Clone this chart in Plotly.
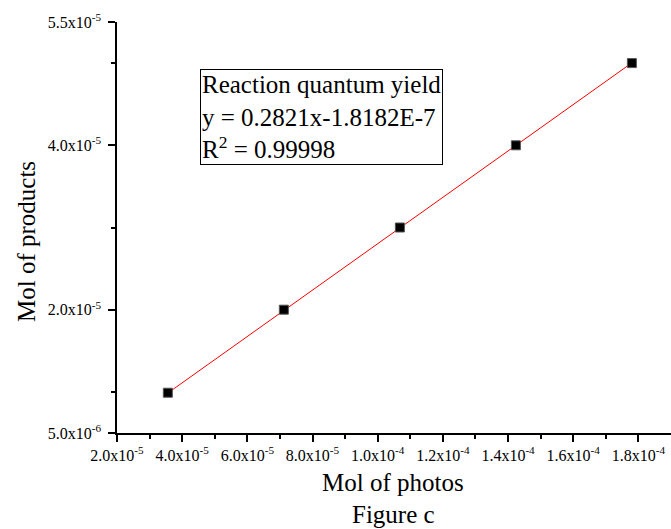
import plotly.graph_objects as go

# Data
mol_photons = [3.56e-5, 7.12e-5, 1.068e-4, 1.424e-4, 1.78e-4]
mol_products = [9.9e-6, 2.0e-5, 3.0e-5, 4.0e-5, 5.0e-5]
slope = 0.2821
intercept = -1.8182e-7
fit_y = [slope * x + intercept for x in mol_photons]

x_tickvals = [2.0e-5, 4.0e-5, 6.0e-5, 8.0e-5, 1.0e-4, 1.2e-4, 1.4e-4, 1.6e-4, 1.8e-4]
x_ticktext = ["2.0x10<sup>-5</sup>", "4.0x10<sup>-5</sup>", "6.0x10<sup>-5</sup>", "8.0x10<sup>-5</sup>",
              "1.0x10<sup>-4</sup>", "1.2x10<sup>-4</sup>", "1.4x10<sup>-4</sup>", "1.6x10<sup>-4</sup>",
              "1.8x10<sup>-4</sup>"]
x_minor = [3.0e-5, 5.0e-5, 7.0e-5, 9.0e-5, 1.1e-4, 1.3e-4, 1.5e-4, 1.7e-4]
y_tickvals = [5.0e-6, 2.0e-5, 4.0e-5, 5.5e-5]
y_ticktext = ["5.0x10<sup>-6</sup>", "2.0x10<sup>-5</sup>", "4.0x10<sup>-5</sup>", "5.5x10<sup>-5</sup>"]
y_minor = [1.0e-5, 3.0e-5, 5.0e-5]

font = "Liberation Serif, Times New Roman, serif"
L, R, T, B = 117, 671, 22, 433
W, H = R - L, B - T

fig = go.Figure()
fig.add_trace(go.Scatter(x=mol_photons, y=fit_y, mode="lines",
                         line=dict(color="red", width=1), showlegend=False))
fig.add_trace(go.Scatter(x=mol_photons, y=mol_products, mode="markers",
                         marker=dict(symbol="square", size=9, color="black",
                                     line=dict(color="#555", width=1)),
                         showlegend=False))

fig.update_layout(
    width=671, height=529,
    margin=dict(l=L, r=671 - R, t=T, b=529 - B, autoexpand=False),
    plot_bgcolor="white", paper_bgcolor="white",
    font=dict(family=font, color="black"),
    xaxis=dict(range=[2.0e-5, 1.9e-4], tickmode="array", tickvals=x_tickvals, ticktext=x_ticktext,
               automargin=False,
               showgrid=False, zeroline=False, showline=True, linecolor="black", linewidth=1.5,
               ticks="outside", ticklen=7, tickwidth=1.5, tickcolor="black",
               tickfont=dict(family=font, size=16, color="black"),
               minor=dict(tickvals=x_minor, ticks="outside", ticklen=4, tickwidth=1.5,
                          tickcolor="black", showgrid=False)),
    yaxis=dict(range=[5.0e-6, 5.5e-5], tickmode="array", tickvals=y_tickvals, ticktext=y_ticktext,
               automargin=False, ticklabelstandoff=4,
               showgrid=False, zeroline=False, showline=True, linecolor="black", linewidth=1.5,
               ticks="outside", ticklen=7, tickwidth=1.5, tickcolor="black",
               tickfont=dict(family=font, size=16, color="black"),
               minor=dict(tickvals=y_minor, ticks="outside", ticklen=4, tickwidth=1.5,
                          tickcolor="black", showgrid=False)),
)

def px(xp):
    return (xp - L) / W

def py(yp):
    return (B - yp) / H

fig.add_annotation(xref="paper", yref="paper", x=px(393), y=py(482), xanchor="center", yanchor="middle",
                   text="Mol of photos", showarrow=False,
                   font=dict(family=font, size=25, color="black"))
fig.add_annotation(xref="paper", yref="paper", x=px(393), y=py(514), xanchor="center", yanchor="middle",
                   text="Figure c", showarrow=False,
                   font=dict(family=font, size=25, color="black"))
fig.add_annotation(xref="paper", yref="paper", x=px(26), y=py(242), xanchor="center", yanchor="middle",
                   text="Mol of products", showarrow=False, textangle=-90,
                   font=dict(family=font, size=25, color="black"))
fig.add_annotation(xref="paper", yref="paper", x=px(200), y=py(69),
                   xanchor="left", yanchor="top", align="left", showarrow=False,
                   text="Reaction quantum yield<br>y = 0.2821x-1.8182E-7<br>R<sup>2</sup> = 0.99998",
                   font=dict(family=font, size=25, color="black"),
                   bordercolor="black", borderwidth=1, borderpad=1, bgcolor="white")

fig.write_html("out.html", config={"displayModeBar": False},
               post_script="document.body.style.margin='0';")
